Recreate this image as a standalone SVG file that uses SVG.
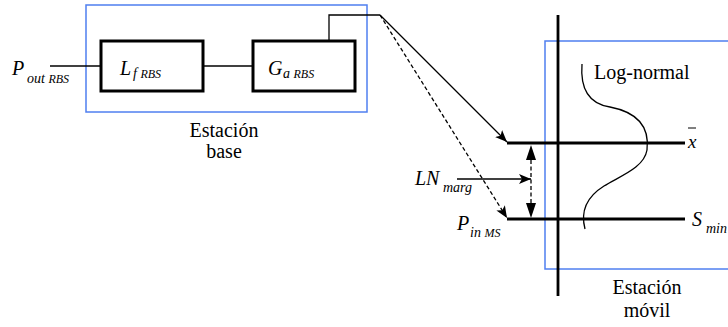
<svg xmlns="http://www.w3.org/2000/svg" width="728" height="327" viewBox="0 0 728 327">
  <defs>
    <style>
      .frame { fill: none; stroke: #4f7ff0; stroke-width: 1.5; }
      .block { fill: #fff; stroke: #000; stroke-width: 3; }
      .wire { fill: none; stroke: #000; stroke-width: 1.3; }
      .dash { fill: none; stroke: #000; stroke-width: 1.3; stroke-dasharray: 4 2.5; }
      .axis { fill: none; stroke: #000; stroke-width: 2.8; }
      text, tspan { font-family: 'Liberation Serif', 'Times New Roman', serif !important; fill: #000; }
      .m { font-size: 20px; }
      .i { font-style: italic; }
      .sub { font-size: 14px; font-style: italic; }
      .sub2 { font-size: 12px; font-style: italic; }
    </style>
    <marker id="arr" viewBox="0 0 12 10" refX="12" refY="5" markerWidth="12" markerHeight="10" markerUnits="userSpaceOnUse" orient="auto">
      <path d="M0,0 L12,5 L0,10 L3,5 Z" fill="#000"/>
    </marker>
    <marker id="tri" viewBox="0 0 15 10" refX="15" refY="5" markerWidth="15" markerHeight="10" markerUnits="userSpaceOnUse" orient="auto">
      <path d="M0,0 L15,5 L0,10 Z" fill="#000"/>
    </marker>
  </defs>

  <!-- base station -->
  <g id="base-station">
    <rect class="frame" x="86" y="5" width="281" height="107"/>
    <text class="m" style="font-family: 'Liberation Serif', serif" x="224" y="137" text-anchor="middle">Estación</text>
    <text class="m" style="font-family: 'Liberation Serif', serif" x="224" y="158" text-anchor="middle">base</text>
  </g>

  <g id="block-lf">
    <rect class="block" x="101" y="41" width="102" height="50"/>
    <text class="m i" style="font-family: 'Liberation Serif', serif" x="120" y="75">L</text>
    <text class="sub" style="font-family: 'Liberation Serif', serif" x="133" y="78">f <tspan class="sub2">RBS</tspan></text>
  </g>

  <g id="block-ga">
    <rect class="block" x="253" y="41" width="102" height="50"/>
    <text class="m i" style="font-family: 'Liberation Serif', serif" x="268" y="75">G</text>
    <text class="sub" style="font-family: 'Liberation Serif', serif" x="283" y="78">a <tspan class="sub2">RBS</tspan></text>
  </g>

  <g id="label-pout">
    <text class="m i" style="font-family: 'Liberation Serif', serif" x="12" y="75">P</text>
    <text class="sub" style="font-family: 'Liberation Serif', serif" x="27" y="83">out <tspan class="sub2">RBS</tspan></text>
  </g>

  <!-- mobile station -->
  <g id="mobile-station">
    <rect class="frame" x="545" y="41" width="190" height="228"/>
    <line class="axis" x1="558" y1="15" x2="558" y2="296"/>
    <text class="m" style="font-family: 'Liberation Serif', serif" x="647" y="294" text-anchor="middle">Estación</text>
    <text class="m" style="font-family: 'Liberation Serif', serif" x="647" y="317" text-anchor="middle">móvil</text>
  </g>

  <g id="level-mean">
    <line class="axis" x1="507" y1="143" x2="685" y2="143"/>
    <text class="m i" style="font-family: 'Liberation Serif', serif; font-size: 19px" x="688" y="148">x</text>
    <line x1="688" y1="128" x2="696" y2="128" stroke="#000" stroke-width="1"/>
  </g>

  <g id="level-smin">
    <line class="axis" x1="507" y1="219" x2="685" y2="219"/>
    <text class="m i" style="font-family: 'Liberation Serif', serif" x="692" y="226">S</text>
    <text class="sub" style="font-family: 'Liberation Serif', serif" x="706" y="233">min</text>
  </g>

  <g id="lognormal">
    <path class="wire" d="M582,64 C580,90 590,104 610,107 C636,112 650,125 647,150 C644,168 620,176 604,186 C588,196 580,210 585,229"/>
    <text class="m" style="font-family: 'Liberation Serif', serif" x="594" y="79">Log-normal</text>
  </g>

  <g id="label-lnmarg">
    <text class="m i" style="font-family: 'Liberation Serif', serif" x="415" y="185">LN</text>
    <text class="sub" style="font-family: 'Liberation Serif', serif" x="443" y="192">marg</text>
  </g>

  <g id="label-pin">
    <text class="m i" style="font-family: 'Liberation Serif', serif" x="457" y="230">P</text>
    <text class="sub" style="font-family: 'Liberation Serif', serif" x="470" y="237">in <tspan class="sub2">MS</tspan></text>
  </g>

  <!-- connectors -->
  <g id="connectors">
    <line class="wire" x1="50" y1="66" x2="101" y2="66"/>
    <line class="wire" x1="203" y1="66" x2="253" y2="66"/>
    <polyline class="wire" points="329,41 329,15 380,15"/>
    <line class="wire" x1="380" y1="15" x2="507" y2="142" marker-end="url(#arr)"/>
    <line class="dash" x1="380" y1="15" x2="507" y2="218" marker-end="url(#arr)"/>
    <line class="wire" x1="457" y1="179" x2="531" y2="179" marker-end="url(#arr)"/>
    <line class="dash" x1="531" y1="160" x2="531" y2="203"/>
    <line x1="531" y1="162" x2="531" y2="145" stroke="none" marker-end="url(#tri)"/>
    <line x1="531" y1="201" x2="531" y2="218" stroke="none" marker-end="url(#tri)"/>
  </g>
</svg>
